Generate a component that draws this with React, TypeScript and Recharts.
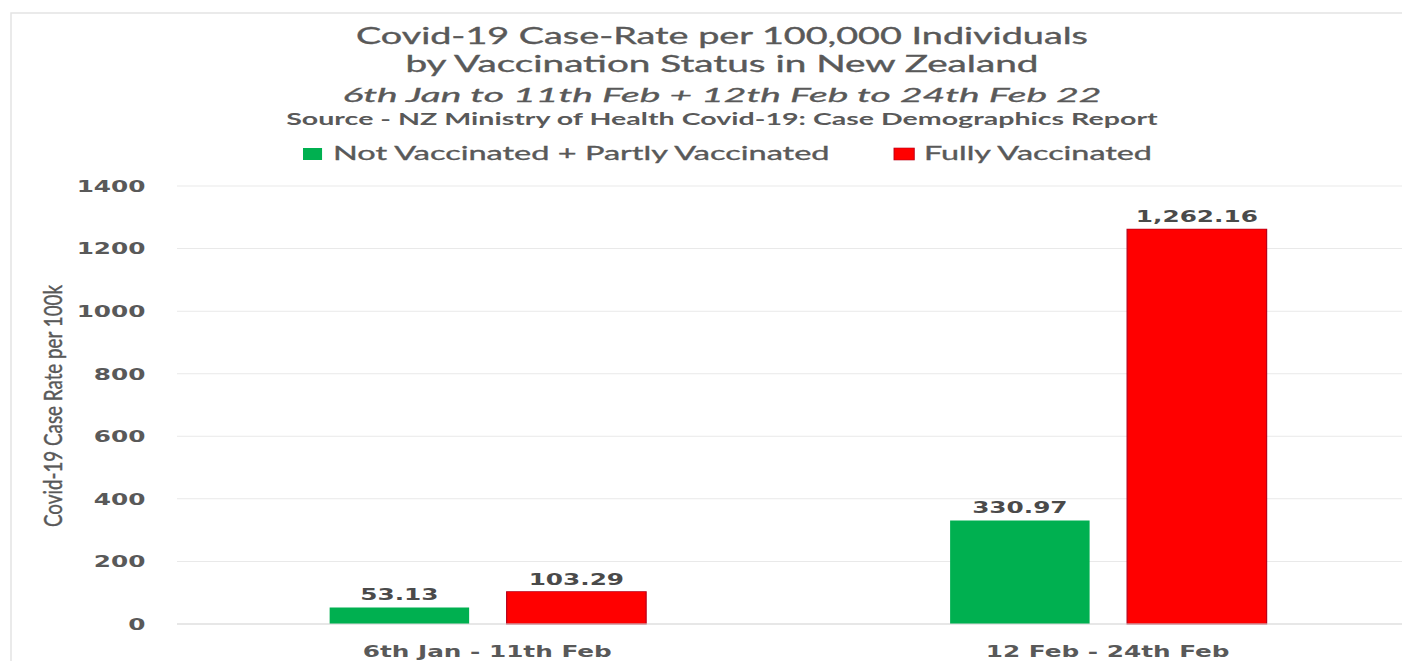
import React from 'react';
import { BarChart, Bar, XAxis, YAxis, CartesianGrid, LabelList } from 'recharts';

const categories = ['6th Jan - 11th Feb', '12 Feb - 24th Feb'];
const notVaccinated = [53.13, 330.97];
const fullyVaccinated = [103.29, 1262.16];
const yTicks = [0, 200, 400, 600, 800, 1000, 1200, 1400];
const seriesNames = ['Not Vaccinated + Partly Vaccinated', 'Fully Vaccinated'];
const seriesColors = ['#00B050', '#FF0000'];
const titleLines = [
  'Covid-19 Case-Rate per 100,000 Individuals',
  'by Vaccination Status in New Zealand',
  '6th Jan to 11th Feb + 12th Feb to 24th Feb 22',
  'Source - NZ Ministry of Health Covid-19: Case Demographics Report',
];
const yAxisTitle = 'Covid-19 Case Rate per 100k';

const data = categories.map((c, i) => ({
  name: c,
  notVax: notVaccinated[i],
  fullVax: fullyVaccinated[i],
}));

const S = 1.5;
const TEXT = '#595959';
const fmt = (v: any) =>
  Number(v).toLocaleString('en-US', { minimumFractionDigits: 2, maximumFractionDigits: 2 });

const tickFont = { fill: TEXT, fontSize: 16.5, fontWeight: 700, fontFamily: 'DejaVu Sans' };

export default function App() {
  return (
    <div
      style={{
        position: 'absolute',
        left: 0,
        top: 0,
        width: 1402,
        height: 661,
        overflow: 'hidden',
        background: '#ffffff',
      }}
    >
      <svg
        width={1402}
        height={661}
        style={{ position: 'absolute', left: 0, top: 0 }}
      >
        <rect x={11} y={13} width={1600} height={800} fill="none" stroke="#e4e4e4" strokeWidth={1.5} />
      </svg>
      <div
        style={{
          position: 'absolute',
          left: 0,
          top: 0,
          width: 960,
          height: 661,
          transform: `scaleX(${S})`,
          transformOrigin: 'left top',
        }}
      >
        <BarChart
          width={960}
          height={661}
          data={data}
          margin={{ top: 186, right: 14.7, bottom: 0, left: 0 }}
          barCategoryGap="24.6%"
          barGap={25}
        >
          <CartesianGrid horizontal vertical={false} stroke="#e9e9e9" />
          <XAxis
            dataKey="name"
            interval={0}
            height={37}
            tickSize={0}
            tickMargin={21}
            tickLine={false}
            axisLine={{ stroke: '#d9d9d9' }}
            tick={tickFont}
          />
          <YAxis
            width={118}
            domain={[0, 1400]}
            ticks={yTicks}
            interval={0}
            tickSize={0}
            tickMargin={21}
            tickLine={false}
            axisLine={false}
            tick={tickFont}
          />
          <Bar dataKey="notVax" name={seriesNames[0]} fill={seriesColors[0]} isAnimationActive={false}>
            <LabelList
              dataKey="notVax"
              position="top"
              offset={7}
              formatter={fmt}
              style={{ fill: '#4a4a4a', fontSize: 16.5, fontWeight: 700, fontFamily: 'DejaVu Sans' }}
            />
          </Bar>
          <Bar
            dataKey="fullVax"
            name={seriesNames[1]}
            fill={seriesColors[1]}
            stroke="#b8001a"
            strokeWidth={0.8}
            isAnimationActive={false}
          >
            <LabelList
              dataKey="fullVax"
              position="top"
              offset={7}
              formatter={fmt}
              style={{ fill: '#4a4a4a', fontSize: 16.5, fontWeight: 700, fontFamily: 'DejaVu Sans' }}
            />
          </Bar>
        </BarChart>
        <svg
          width={960}
          height={661}
          style={{ position: 'absolute', left: 0, top: 0, pointerEvents: 'none' }}
        >
          <g fill={TEXT} fontFamily="Lato" textAnchor="middle">
            <text x={481.3} y={44.5} fontSize={22.5} stroke={TEXT} strokeWidth={0.35} textLength={488} lengthAdjust="spacingAndGlyphs">
              {titleLines[0]}
            </text>
            <text x={481.3} y={72} fontSize={22.5} stroke={TEXT} strokeWidth={0.35} textLength={422} lengthAdjust="spacingAndGlyphs">
              {titleLines[1]}
            </text>
            <text x={481.3} y={102} fontSize={19} fontStyle="italic" stroke={TEXT} strokeWidth={0.3} textLength={506} lengthAdjust="spacingAndGlyphs">
              {titleLines[2]}
            </text>
            <text x={481.3} y={125} fontSize={16.5} fontWeight={700} textLength={581} lengthAdjust="spacingAndGlyphs">
              {titleLines[3]}
            </text>
          </g>
          <g fontFamily="Lato" fill={TEXT} fontSize={20} stroke={TEXT} strokeWidth={0.35}>
            <rect x={202} y={148} width={12.7} height={12} fill={seriesColors[0]} stroke="none" />
            <text x={222} y={160.5} textLength={331} lengthAdjust="spacingAndGlyphs">
              {seriesNames[0]}
            </text>
            <rect x={596} y={148} width={13.5} height={12} fill={seriesColors[1]} stroke="#b8001a" strokeWidth={0.6} />
            <text x={616} y={160.5} textLength={152} lengthAdjust="spacingAndGlyphs">
              {seriesNames[1]}
            </text>
          </g>
          <text
            x={41.5}
            y={406}
            transform="rotate(-90 41.5 406)"
            textAnchor="middle"
            fontFamily="Lato"
            fontSize={17}
            fill={TEXT}
            stroke={TEXT}
            strokeWidth={0.3}
            textLength={242}
            lengthAdjust="spacingAndGlyphs"
          >
            {yAxisTitle}
          </text>
        </svg>
      </div>
    </div>
  );
}
